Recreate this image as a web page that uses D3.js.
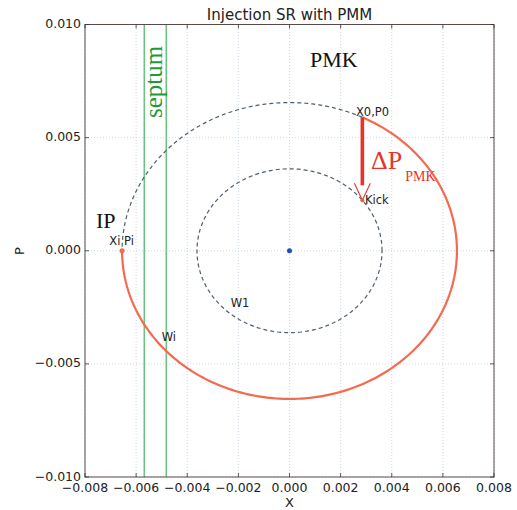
<!DOCTYPE html>
<html><head><meta charset="utf-8">
<script src="https://cdn.jsdelivr.net/npm/d3@7"></script>
<style>body{margin:0;background:#fff}svg{display:block}</style>
</head><body>
<svg id="c" width="517" height="510"></svg>
<script>
// ---- data ----
const xTicks = [-0.008,-0.006,-0.004,-0.002,0.000,0.002,0.004,0.006,0.008];
const yTicks = [-0.010,-0.005,0.000,0.005,0.010];
const orbitRadii = {outer:0.00655, inner:0.00362};
const septumX = [-0.00568, -0.00482];
const pointX0P0 = [0.00285, 0.00590];
const pointKick = [0.00285, 0.00223];
const pointXiPi = [-0.00655, 0.0];
const pointCenter = [0.0, 0.0];
const labels = [
  {t:"X0,P0", p:[0.00260, 0.00595]},
  {t:"Kick",  p:[0.00295, 0.00205]},
  {t:"Xi Pi", p:[-0.00705, 0.00025]},
  {t:"Wi",    p:[-0.00500, -0.00398]},
  {t:"W1",    p:[-0.00230, -0.00250]}
];

const svg = d3.select("#c");
const x = d3.scaleLinear().domain([-0.008,0.008]).range([85,494]);
const y = d3.scaleLinear().domain([-0.010,0.010]).range([477,24.5]);
const fmt = v => (v<0?"\u2212":"") + Math.abs(v).toFixed(3);

// grid
const g = svg.append("g");
g.selectAll(".gx").data(xTicks).enter().append("line")
  .attr("x1",d=>x(d)).attr("x2",d=>x(d)).attr("y1",y(-0.010)).attr("y2",y(0.010))
  .attr("stroke","#b9cfe2").attr("stroke-width",0.8).attr("stroke-dasharray","1,2");
g.selectAll(".gy").data(yTicks).enter().append("line")
  .attr("y1",d=>y(d)).attr("y2",d=>y(d)).attr("x1",x(-0.008)).attr("x2",x(0.008))
  .attr("stroke","#b9cfe2").attr("stroke-width",0.8).attr("stroke-dasharray","1,2");

// septum
svg.selectAll(".sep").data(septumX).enter().append("line")
  .attr("x1",d=>x(d)).attr("x2",d=>x(d)).attr("y1",y(-0.010)).attr("y2",y(0.010))
  .attr("stroke","#6cc283").attr("stroke-width",1.6);

// orbits
const arcPts = (r,a0,a1)=>d3.range(0,201).map(i=>{const a=a0+(a1-a0)*i/200;return [x(r*Math.cos(a)),y(r*Math.sin(a))];});
const line = d3.line();
const a0 = Math.atan2(pointX0P0[1], pointX0P0[0]);
svg.append("path").attr("d",line(arcPts(orbitRadii.outer,a0,Math.PI)))
  .attr("fill","none").attr("stroke","#4d5e6c").attr("stroke-width",1.2).attr("stroke-dasharray","4,3");
svg.append("path").attr("d",line(arcPts(orbitRadii.inner,0,2*Math.PI)))
  .attr("fill","none").attr("stroke","#4d5e6c").attr("stroke-width",1.2).attr("stroke-dasharray","4,3");
svg.append("path").attr("d",line(arcPts(orbitRadii.outer,Math.PI,2*Math.PI+a0)))
  .attr("fill","none").attr("stroke","#f4694f").attr("stroke-width",2.2);

// kick arrow
const ax = x(pointX0P0[0]), ay0 = y(pointX0P0[1]), ay1 = y(pointKick[1]);
svg.append("line").attr("x1",ax).attr("x2",ax).attr("y1",ay0).attr("y2",ay1-15)
  .attr("stroke","#e8332b").attr("stroke-width",3.6);
svg.append("path").attr("d",`M${ax-8},${ay1-17}L${ax},${ay1}L${ax+8},${ay1-17}`)
  .attr("fill","none").attr("stroke","#e8332b").attr("stroke-width",1.1);

// points
svg.append("circle").attr("cx",x(pointXiPi[0])).attr("cy",y(pointXiPi[1])).attr("r",2.5).attr("fill","#f4694f");
svg.append("circle").attr("cx",x(pointKick[0])).attr("cy",y(pointKick[1])).attr("r",2).attr("fill","#d2693e");
svg.append("circle").attr("cx",x(pointCenter[0])).attr("cy",y(pointCenter[1])).attr("r",2.5).attr("fill","#1f4fbf");

// frame
svg.append("rect").attr("x",x(-0.008)).attr("y",y(0.010)).attr("width",x(0.008)-x(-0.008)).attr("height",y(-0.010)-y(0.010))
  .attr("fill","none").attr("stroke","#5a4a48").attr("stroke-width",1);

// ticks (inside) & labels
const tk = svg.append("g").attr("stroke","#333").attr("stroke-width",0.8);
xTicks.forEach(v=>{tk.append("line").attr("x1",x(v)).attr("x2",x(v)).attr("y1",y(-0.010)).attr("y2",y(-0.010)-4);
  tk.append("line").attr("x1",x(v)).attr("x2",x(v)).attr("y1",y(0.010)).attr("y2",y(0.010)+4);});
yTicks.forEach(v=>{tk.append("line").attr("y1",y(v)).attr("y2",y(v)).attr("x1",x(-0.008)).attr("x2",x(-0.008)+4);
  tk.append("line").attr("y1",y(v)).attr("y2",y(v)).attr("x1",x(0.008)).attr("x2",x(0.008)-4);});
const font = "DejaVu Sans, sans-serif";
svg.selectAll(".xl").data(xTicks).enter().append("text")
  .attr("x",d=>x(d)).attr("y",492).attr("text-anchor","middle")
  .attr("font-family",font).attr("font-size",12.5).attr("fill","#222").text(fmt);
svg.selectAll(".yl").data(yTicks).enter().append("text")
  .attr("x",81).attr("y",d=>y(d)+3.5).attr("text-anchor","end")
  .attr("font-family",font).attr("font-size",12.5).attr("fill","#222").text(fmt);
svg.append("text").attr("x",289.5).attr("y",20).attr("text-anchor","middle")
  .attr("font-family",font).attr("font-size",15).attr("fill","#222").text("Injection SR with PMM");
svg.append("text").attr("x",289.5).attr("y",507).attr("text-anchor","middle")
  .attr("font-family",font).attr("font-size",13).attr("fill","#222").text("X");
svg.append("text").attr("transform","translate(24,251) rotate(-90)").attr("text-anchor","middle")
  .attr("font-family",font).attr("font-size",13).attr("fill","#222").text("P");

// small labels
svg.selectAll(".lb").data(labels).enter().append("text")
  .attr("x",d=>x(d.p[0])).attr("y",d=>y(d.p[1])).attr("font-family",font).attr("font-size",11.5)
  .attr("fill","#222").text(d=>d.t);

// serif annotations
const serif = "Liberation Serif, serif";
svg.append("text").attr("x",310).attr("y",67).attr("font-family",serif).attr("font-size",22).attr("fill","#111").text("PMK");
svg.append("text").attr("x",96).attr("y",228).attr("font-family",serif).attr("font-size",22).attr("fill","#111").text("IP");
svg.append("text").attr("transform","translate(162,118) rotate(-90)").attr("font-family",serif).attr("font-size",25).attr("fill","#1e9a3a").text("septum");
const dp = svg.append("text").attr("x",371).attr("y",169).attr("font-family",serif).attr("fill","#e8332b");
dp.append("tspan").attr("font-size",26).text("\u0394P");
dp.append("tspan").attr("font-size",14).attr("dy",12).attr("dx",3).text("PMK");
</script>
</body></html>
